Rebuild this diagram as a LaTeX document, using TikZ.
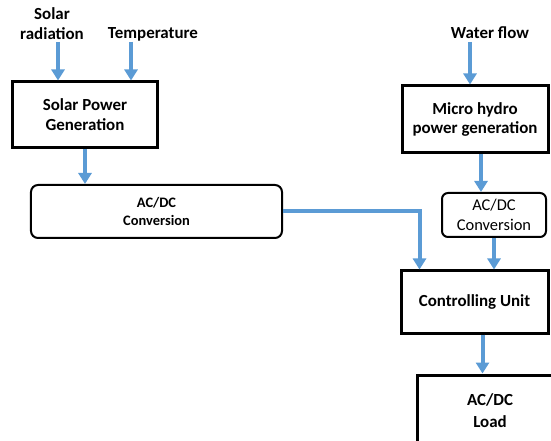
\documentclass[tikz,border=0pt]{standalone}
\usepackage{fontspec}
\setmainfont{Carlito}
\usetikzlibrary{arrows.meta}
\definecolor{arrblue}{HTML}{5B9BD5}
\tikzset{
  thickbox/.style={draw=black, line width=3bp, fill=white, align=center, font=\bfseries\fontsize{17}{20}\selectfont, inner sep=0pt},
  roundbox/.style={draw=black, line width=2bp, rounded corners=7bp, fill=white, align=center, inner sep=0pt},
  lbl/.style={align=center, font=\bfseries\fontsize{17}{20}\selectfont, inner sep=0pt},
  arr/.style={draw=arrblue, line width=4bp, -{Triangle[width=13bp,length=11bp]}}
}
\begin{document}
\begin{tikzpicture}[x=1bp,y=-1bp]
\useasboundingbox (0,0) rectangle (551,441);
\clip (0,0) rectangle (551,441);
\node[lbl] (sr) at (52,24) {Solar\\radiation};
\node[lbl] (tp) at (153,34) {Temperature};
\node[lbl] (wf) at (490,33) {Water flow};
\node[thickbox, minimum width=144bp, minimum height=66bp] (sp) at (85,115) {Solar Power\\Generation};
\node[roundbox, minimum width=251bp, minimum height=53bp, font=\bfseries\fontsize{14.5}{19}\selectfont] (lc) at (156.5,211.5) {AC/DC\\Conversion};
\node[thickbox, minimum width=146bp, minimum height=67bp] (mh) at (475,119.5) {Micro hydro\\power generation};
\node[roundbox, minimum width=104bp, minimum height=44bp, rounded corners=6bp, font=\fontsize{16.5}{20}\selectfont] (rc) at (494,215) {AC/DC\\Conversion};
\node[thickbox, minimum width=147bp, minimum height=62bp] (cu) at (474.5,302) {Controlling Unit};
\node[thickbox, minimum width=146bp, minimum height=72bp, font=\bfseries\fontsize{17}{22}\selectfont] (ld) at (490,411) {AC/DC\\Load};
\coordinate (srs) at (58,42);
\coordinate (tps) at (131,42);
\coordinate (wfs) at (470,42);
\draw[arr] (srs) -- (srs |- sp.north);
\draw[arr] (tps) -- (tps |- sp.north);
\draw[arr] (wfs) -- (wfs |- mh.north);
\draw[arr] (sp.south) -- (sp.south |- lc.north);
\draw[arr] ([xshift=6bp]mh.south) -- ([xshift=6bp]mh.south |- rc.north);
\draw[arr] (lc.east) -| ([xshift=-55bp]cu.north);
\draw[arr] (rc.south) -- (rc.south |- cu.north);
\draw[arr] ([xshift=8bp]cu.south) -- ([xshift=8bp]cu.south |- ld.north);
\end{tikzpicture}
\end{document}
